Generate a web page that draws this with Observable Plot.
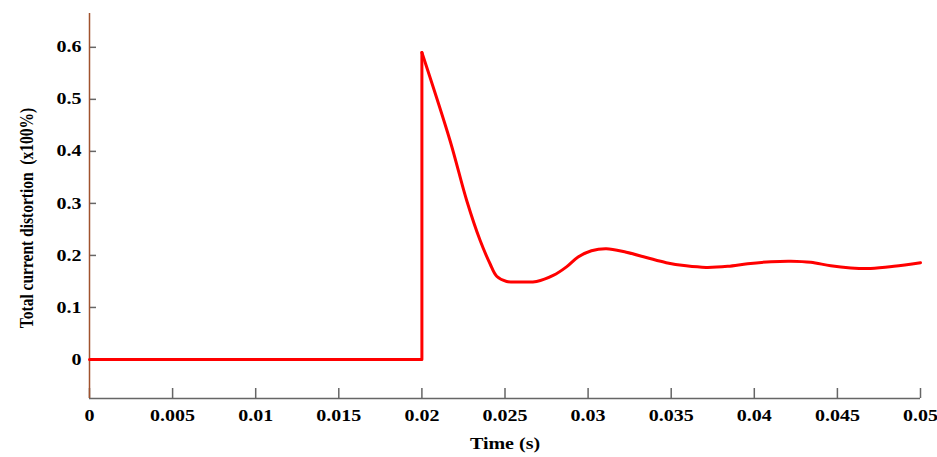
<!DOCTYPE html>
<html><head><meta charset="utf-8">
<script src="https://cdn.jsdelivr.net/npm/d3@7"></script>
<script src="https://cdn.jsdelivr.net/npm/@observablehq/plot@0.6"></script>
<style>body{margin:0;background:#fff}</style>
</head><body><div id="chart"></div>
<script>
const time = [0, 0.005, 0.01, 0.015, 0.02, 0.02, 0.0217, 0.0227, 0.0235, 0.0241, 0.0245, 0.0251, 0.026, 0.0269, 0.0279, 0.0287, 0.0294, 0.0302, 0.0311, 0.0323, 0.0335, 0.0347, 0.0359, 0.0371, 0.0384, 0.0396, 0.0410, 0.0422, 0.0434, 0.0446, 0.0458, 0.0470, 0.0484, 0.0500];
const distortion = [0, 0, 0, 0, 0, 0.59, 0.42, 0.305, 0.229, 0.184, 0.160, 0.150, 0.149, 0.150, 0.1615, 0.178, 0.197, 0.209, 0.213, 0.206, 0.196, 0.186, 0.180, 0.177, 0.179, 0.184, 0.188, 0.189, 0.187, 0.180, 0.176, 0.175, 0.179, 0.186];
const xTicks = [0, 0.005, 0.01, 0.015, 0.02, 0.025, 0.03, 0.035, 0.04, 0.045, 0.05];
const xTickLabels = ["0", "0.005", "0.01", "0.015", "0.02", "0.025", "0.03", "0.035", "0.04", "0.045", "0.05"];
const yTicks = [0, 0.1, 0.2, 0.3, 0.4, 0.5, 0.6];
const yTickLabels = ["0", "0.1", "0.2", "0.3", "0.4", "0.5", "0.6"];
const xLabel = "Time (s)";
const yLabel = "Total current distortion  (x100%)";

const data = time.map((t, i) => ({t, v: distortion[i], i}));
const jumpIndex = 5;

const W = 937, H = 457, mL = 89, mR = 17, mT = 13, mB = 59;
const frameW = W - mL - mR, frameH = H - mT - mB;

const chart = Plot.plot({
  width: W, height: H,
  marginLeft: mL, marginRight: mR, marginTop: mT, marginBottom: mB,
  style: {fontFamily: "'Liberation Serif', 'Times New Roman', serif", fontWeight: "bold", fontSize: "16px", background: "#fff", color: "#000"},
  x: {domain: [0, 0.05]},
  y: {domain: [-0.075, 0.665]},
  marks: [
    Plot.ruleY([-0.075], {stroke: "#666", strokeWidth: 1.5}),
    Plot.ruleX(xTicks, {stroke: "#666", strokeWidth: 1.5, insetTop: frameH - 10}),
    Plot.ruleY(yTicks, {stroke: "#666", strokeWidth: 1.5, insetRight: frameW - 7}),
    Plot.ruleX([0], {stroke: "#a0522d", strokeWidth: 1.5}),
    Plot.axisX(xTicks, {tickSize: 0, tickPadding: 11, tickFormat: d => xTickLabels[xTicks.indexOf(d)], fontSize: 16, fontWeight: "bold", label: null}),
    Plot.axisY(yTicks, {tickSize: 0, tickPadding: 8, tickFormat: d => yTickLabels[yTicks.indexOf(d)], fontSize: 16, fontWeight: "bold", label: null}),
    Plot.line(data.filter(d => d.i <= jumpIndex), {x: "t", y: "v", stroke: "#ff0000", strokeWidth: 3, curve: "linear"}),
    Plot.line(data.filter(d => d.i >= jumpIndex), {x: "t", y: "v", stroke: "#ff0000", strokeWidth: 3, curve: "catmull-rom"}),
    Plot.text([xLabel], {frameAnchor: "bottom", dy: 50, fontSize: 16, fontWeight: "bold", fill: "#000"}),
    Plot.text([yLabel], {frameAnchor: "left", textAnchor: "middle", rotate: -90, dx: -63, dy: 12, fontSize: 15.5, fontWeight: "bold", fill: "#000"})
  ]
});
// the reference's lettering is stretched horizontally
d3.select(chart).selectAll("text").each(function() {
  const t = this.getAttribute("transform") || "";
  if (t.includes("rotate")) this.setAttribute("transform", t + " scale(1,1.25)");
  else if (t.includes("translate")) this.setAttribute("transform", t + " scale(1.25,1)");
});
document.getElementById("chart").appendChild(chart);
</script>
</body></html>
